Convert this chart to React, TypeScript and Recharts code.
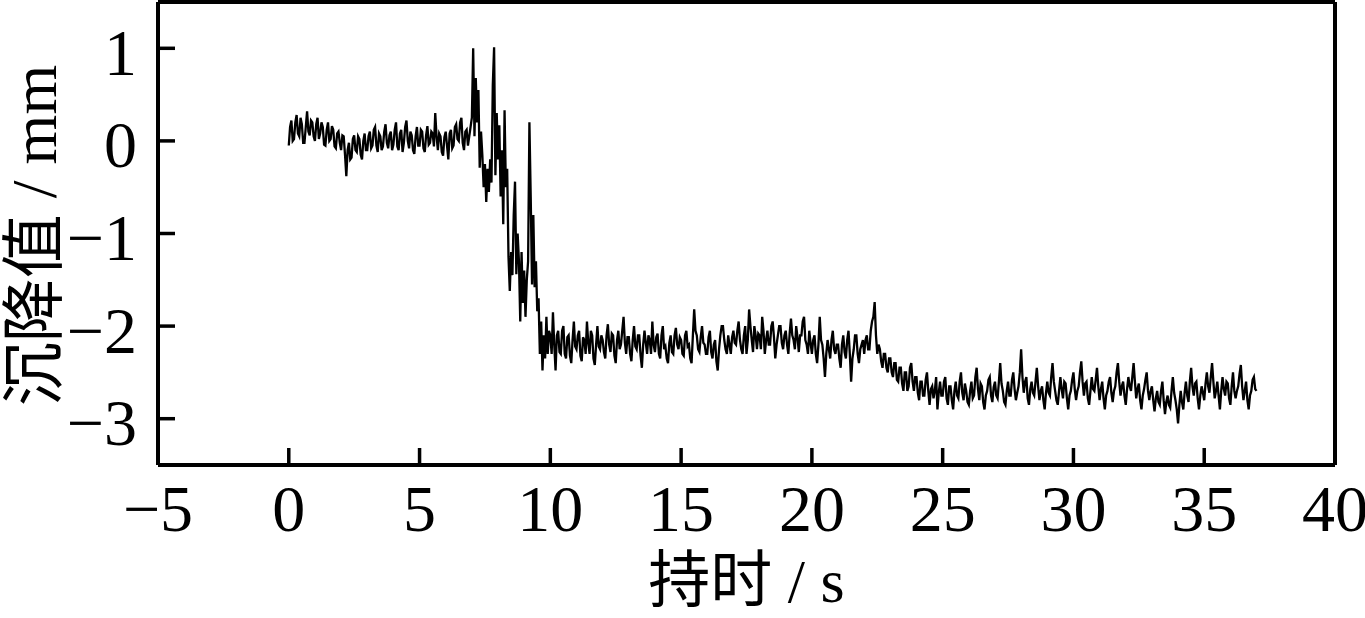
import React from 'react';
import { LineChart, Line, XAxis, YAxis, ReferenceLine } from 'recharts';

// 0.00 s – 6.95 s, sampled every 0.05 s
const preStart = 0;
const preStep = 0.05;
const preValues = [
  -0.05, 0.15, 0.22, 0.0, 0.02, 0.2, 0.28, 0.08, 0.05, 0.25, 0.18, -0.02, -0.02, 0.15, 0.32, 0.1, 0.06, 0.22, 0.2, 0.05,
  0.0, 0.18, 0.25, 0.02, 0.08, 0.2, 0.15, -0.04, -0.05, 0.12, 0.2, 0.0, 0.02, 0.16, 0.12, -0.06, -0.08, 0.08, 0.1, -0.02,
  -0.1, 0.06, 0.05, -0.15, -0.38, -0.1, -0.02, -0.2, -0.18, 0.02, 0.06, -0.1, -0.12, 0.05, 0.02, -0.15, -0.2, 0.0, 0.08, -0.1,
  -0.1, 0.05, 0.1, -0.08, -0.05, 0.12, 0.15, -0.05, -0.12, 0.08, 0.05, -0.1, -0.06, 0.1, 0.18, -0.02, -0.08, 0.06, 0.1, -0.1,
  -0.04, 0.12, 0.2, -0.06, -0.1, 0.08, 0.12, -0.12, -0.02, 0.15, 0.22, 0.0, -0.08, 0.1, 0.06, -0.1, -0.14, 0.05, 0.15, -0.05,
  -0.05, 0.12, 0.1, -0.08, -0.12, 0.06, 0.16, -0.04, -0.02, 0.1, 0.08, -0.06, 0.3, 0.05, -0.1, 0.08, 0.05, -0.12, -0.16, 0.04,
  0.1, -0.05, -0.2, 0.08, 0.12, -0.08, -0.05, 0.15, 0.18, 0.02, 0.0, 0.2, 0.25, -0.02, -0.1, 0.1, 0.12, -0.05, 0.05, 0.15,
];

// 7.00 s – 9.95 s, sampled every 0.05 s (collapse)
const dropStart = 7;
const dropStep = 0.05;
const dropValues = [
  0.25, 1.0, 0.05, 0.68, 0.2, 0.55, -0.29, 0.1, -0.15, -0.5,
  -0.25, -0.66, -0.3, -0.55, -0.2, -0.45, 0.6, 1.01, -0.37, 0.3,
  -0.2, 0.17, -0.6, -0.1, -0.9, 0.33, -0.5, -0.3, -1.25, -1.62,
  -1.2, -1.45, -0.8, -0.44, -1.44, -1.0, -1.3, -1.95, -1.2, -1.75,
  -1.4, -1.9, -1.5, -1.3, 0.2, -0.6, -1.55, -0.8, -1.58, -1.3,
  -1.84, -1.7, -2.3, -1.95, -2.48, -2.1, -2.35, -1.9, -2.3, -2.05,
];

// 10.00 s – 37.00 s, sampled every 0.05 s
const postStart = 10;
const postStep = 0.05;
const postValues = [
  -2.1, -2.3, -1.85, -2.2, -2.48, -2.1, -2.05, -2.28, -2.3, -2.05, -2.0, -2.3, -2.35, -2.12, -2.1, -2.32, -2.4, -2.15, -1.95, -2.22,
  -2.25, -2.1, -2.05, -2.32, -2.38, -2.12, -2.15, -2.3, -1.95, -2.18, -2.3, -2.05, -2.1, -2.35, -2.42, -2.2, -2.0, -2.22, -2.25, -2.1,
  -2.15, -2.28, -2.35, -2.1, -1.98, -2.2, -2.28, -2.08, -2.1, -2.32, -2.4, -2.15, -2.05, -2.25, -2.2, -2.05, -1.9, -2.18, -2.3, -2.12,
  -2.12, -2.3, -2.38, -2.15, -2.0, -2.22, -2.25, -2.1, -2.1, -2.32, -2.45, -2.2, -2.05, -2.18, -2.3, -2.1, -2.15, -2.3, -1.95, -2.2,
  -2.28, -2.12, -2.08, -2.3, -2.35, -2.1, -2.0, -2.25, -2.22, -2.35, -2.4, -2.18, -2.1, -2.28, -2.3, -2.1, -2.02, -2.2, -2.25, -2.12,
  -2.15, -2.3, -2.32, -2.1, -2.05, -2.22, -2.2, -2.35, -2.4, -2.1, -1.82, -2.05, -2.1, -2.25, -2.28, -2.12, -2.0, -2.18, -2.2, -2.3,
  -2.3, -2.12, -2.05, -2.28, -2.35, -2.2, -2.15, -2.38, -2.48, -2.25, -2.1, -2.0, -2.0, -2.15, -2.25, -2.3, -2.1, -2.2, -2.3, -2.12,
  -2.05, -2.18, -2.2, -2.05, -1.95, -2.15, -2.25, -2.3, -2.1, -2.0, -2.3, -2.15, -1.82, -2.0, -2.15, -2.28, -2.0, -2.1, -2.25, -2.08,
  -2.1, -2.25, -1.9, -2.05, -2.3, -2.15, -2.05, -2.2, -2.2, -2.0, -1.95, -2.12, -2.35, -2.2, -2.1, -2.0, -2.0, -2.18, -2.25, -2.1,
  -2.05, -2.2, -2.3, -2.08, -1.92, -2.1, -2.15, -2.25, -2.0, -2.12, -2.28, -2.1, -2.1, -1.95, -1.9, -2.15, -2.2, -2.3, -2.05, -2.18,
  -2.3, -2.15, -2.1, -2.3, -2.4, -2.2, -1.9, -2.15, -2.2, -2.35, -2.55, -2.3, -2.15, -2.25, -2.35, -2.15, -2.05, -2.25, -2.3, -2.2,
  -2.2, -2.35, -2.45, -2.2, -2.1, -2.28, -2.35, -2.15, -2.05, -2.3, -2.6, -2.35, -2.25, -2.1, -2.1, -2.3, -2.4, -2.25, -2.2, -2.15,
  -2.3, -2.15, -2.1, -2.25, -2.25, -2.05, -1.95, -1.9, -1.74, -2.1, -2.3, -2.2, -2.25, -2.38, -2.45, -2.3, -2.3, -2.45, -2.5, -2.35,
  -2.35, -2.5, -2.55, -2.4, -2.4, -2.58, -2.6, -2.45, -2.45, -2.62, -2.7, -2.5, -2.5, -2.7, -2.65, -2.45, -2.4, -2.6, -2.7, -2.55,
  -2.55, -2.72, -2.8, -2.6, -2.6, -2.75, -2.75, -2.58, -2.5, -2.7, -2.85, -2.68, -2.65, -2.78, -2.7, -2.55, -2.9, -2.72, -2.6, -2.75,
  -2.75, -2.6, -2.55, -2.78, -2.85, -2.65, -2.65, -2.8, -2.9, -2.7, -2.6, -2.75, -2.78, -2.6, -2.5, -2.72, -2.8, -2.62, -2.7, -2.82,
  -2.85, -2.7, -2.6, -2.78, -2.75, -2.55, -2.45, -2.68, -2.8, -2.62, -2.65, -2.82, -2.9, -2.75, -2.7, -2.58, -2.55, -2.75, -2.82, -2.66,
  -2.6, -2.75, -2.78, -2.6, -2.4, -2.62, -2.7, -2.82, -2.85, -2.7, -2.6, -2.75, -2.75, -2.58, -2.5, -2.68, -2.8, -2.72, -2.65, -2.5,
  -2.25, -2.55, -2.72, -2.6, -2.55, -2.78, -2.85, -2.68, -2.6, -2.72, -2.75, -2.6, -2.45, -2.65, -2.8, -2.7, -2.65, -2.8, -2.9, -2.72,
  -2.6, -2.72, -2.75, -2.55, -2.4, -2.6, -2.7, -2.8, -2.85, -2.7, -2.55, -2.68, -2.78, -2.6, -2.62, -2.78, -2.9, -2.75, -2.7, -2.58,
  -2.5, -2.68, -2.8, -2.7, -2.65, -2.5, -2.38, -2.6, -2.75, -2.62, -2.6, -2.78, -2.85, -2.7, -2.55, -2.68, -2.7, -2.58, -2.45, -2.65,
  -2.8, -2.68, -2.6, -2.78, -2.9, -2.75, -2.7, -2.6, -2.55, -2.72, -2.82, -2.7, -2.65, -2.5, -2.4, -2.6, -2.75, -2.65, -2.6, -2.75,
  -2.85, -2.68, -2.55, -2.65, -2.7, -2.55, -2.4, -2.6, -2.78, -2.68, -2.62, -2.8, -2.9, -2.75, -2.68, -2.58, -2.5, -2.7, -2.8, -2.7,
  -2.65, -2.8, -2.92, -2.78, -2.7, -2.82, -2.85, -2.7, -2.6, -2.8, -2.95, -2.82, -2.75, -2.85, -2.88, -2.7, -2.55, -2.72, -2.8, -2.9,
  -3.05, -2.85, -2.7, -2.82, -2.9, -2.72, -2.6, -2.75, -2.82, -2.6, -2.45, -2.65, -2.75, -2.62, -2.6, -2.78, -2.9, -2.75, -2.65, -2.72,
  -2.8, -2.62, -2.5, -2.65, -2.72, -2.55, -2.4, -2.6, -2.78, -2.7, -2.6, -2.75, -2.9, -2.7, -2.55, -2.68, -2.75, -2.6, -2.62, -2.78,
  -2.85, -2.65, -2.5, -2.7, -2.78, -2.7, -2.65, -2.52, -2.42, -2.65, -2.8, -2.7, -2.6, -2.8, -2.9, -2.75, -2.7, -2.58, -2.55, -2.68,
  -2.7,
];

const xTicks = [-5, 0, 5, 10, 15, 20, 25, 30, 35, 40];
const yTicks = [-3, -2, -1, 0, 1];
const xDomain: [number, number] = [-5, 40];
const yDomain: [number, number] = [-3.5, 1.5];
const xLabel = '持时 / s';
const yLabel = '沉降值 / mm';

const segments = [
  { start: preStart, step: preStep, values: preValues },
  { start: dropStart, step: dropStep, values: dropValues },
  { start: postStart, step: postStep, values: postValues },
];

const data = segments.flatMap((s) =>
  s.values.map((v, i) => ({ t: Math.round((s.start + i * s.step) * 1000) / 1000, v }))
);

const FONT = "'Liberation Serif', 'Times New Roman', 'Noto Sans CJK SC', serif";
const fmt = (v: number) => (v < 0 ? '\u2212' + Math.abs(v) : String(v));

// layout
const CHART_W = 1365;
const CHART_H = 618;
const MARGIN = { top: 2, right: 30, left: 0, bottom: 0 };
const Y_AXIS_W = 158;
const X_AXIS_H = 153;
const PLOT_W = CHART_W - MARGIN.left - MARGIN.right - Y_AXIS_W;
const PLOT_H = CHART_H - MARGIN.top - MARGIN.bottom - X_AXIS_H;

const TICK_LEN = 17;
const TICK_W = 3.5;
const FRAME_W = 4;
const TS = 1;
const X_MARGIN = 18;
const Y_MARGIN = 20;
const TICK_FONT = 66;

// inward tick lengths expressed in axis units
const xTickLenUnits = ((yDomain[1] - yDomain[0]) * TICK_LEN) / PLOT_H;
const yTickLenUnits = ((xDomain[1] - xDomain[0]) * TICK_LEN) / PLOT_W;

const XTick = (props: any) => {
  const { x, y, payload } = props;
  return (
    <text x={x} y={y} dy="0.71em" textAnchor="middle" fontFamily={FONT} fontSize={TICK_FONT} fill="#000">
      {fmt(payload.value)}
    </text>
  );
};

const YTick = (props: any) => {
  const { x, y, payload } = props;
  return (
    <text x={x} y={y + 3} dy="0.355em" textAnchor="end" fontFamily={FONT} fontSize={TICK_FONT} fill="#000">
      {fmt(payload.value)}
    </text>
  );
};

const YLabelContent = (props: any) => {
  const vb = props.viewBox || { x: 0, y: 0, width: Y_AXIS_W, height: PLOT_H };
  const cx = vb.x + 34;
  const cy = vb.y + vb.height / 2 + 2;
  return (
    <text
      x={cx}
      y={cy}
      transform={`rotate(-90, ${cx}, ${cy})`}
      textAnchor="middle"
      dominantBaseline="central"
      fontFamily={FONT}
      fontSize={64}
      fill="#000"
    >
      {yLabel}
    </text>
  );
};

const XLabelContent = (props: any) => {
  const vb = props.viewBox || { x: Y_AXIS_W, y: PLOT_H, width: PLOT_W, height: X_AXIS_H };
  const cx = vb.x + vb.width / 2;
  const cy = vb.y + 116;
  return (
    <text
      x={cx}
      y={cy}
      textAnchor="middle"
      dominantBaseline="central"
      fontFamily={FONT}
      fontSize={62}
      fill="#000"
    >
      {xLabel}
    </text>
  );
};

export default function App() {
  return (
    <div style={{ position: 'absolute', left: 0, top: 0, background: '#fff' }}>
      <LineChart width={CHART_W} height={CHART_H} data={data} margin={MARGIN}>
        <XAxis
          dataKey="t"
          type="number"
          domain={xDomain}
          ticks={xTicks}
          allowDataOverflow
          height={X_AXIS_H}
          tickSize={TS}
          tickMargin={X_MARGIN}
          axisLine={false}
          tickLine={false}
          tick={XTick}
          interval={0}
          label={{ content: XLabelContent }}
        />
        <YAxis
          type="number"
          domain={yDomain}
          ticks={yTicks}
          allowDataOverflow
          width={Y_AXIS_W}
          tickSize={TS}
          tickMargin={Y_MARGIN}
          axisLine={false}
          tickLine={false}
          tick={YTick}
          interval={0}
          label={{ content: YLabelContent }}
        />
        <Line
          type="linear"
          dataKey="v"
          stroke="#000"
          strokeWidth={2.3}
          dot={false}
          isAnimationActive={false}
        />
        {xTicks.map((t) => (
          <ReferenceLine
            key={`xt${t}`}
            segment={[
              { x: t, y: yDomain[0] },
              { x: t, y: yDomain[0] + xTickLenUnits },
            ]}
            stroke="#000"
            strokeWidth={TICK_W}
            ifOverflow="visible"
          />
        ))}
        {yTicks.map((v) => (
          <ReferenceLine
            key={`yt${v}`}
            segment={[
              { x: xDomain[0], y: v },
              { x: xDomain[0] + yTickLenUnits, y: v },
            ]}
            stroke="#000"
            strokeWidth={TICK_W}
            ifOverflow="visible"
          />
        ))}
        <ReferenceLine y={yDomain[0]} stroke="#000" strokeWidth={FRAME_W} ifOverflow="visible" />
        <ReferenceLine y={yDomain[1]} stroke="#000" strokeWidth={FRAME_W} ifOverflow="visible" />
        <ReferenceLine x={xDomain[0]} stroke="#000" strokeWidth={FRAME_W} ifOverflow="visible" />
        <ReferenceLine x={xDomain[1]} stroke="#000" strokeWidth={FRAME_W} ifOverflow="visible" />
      </LineChart>
    </div>
  );
}
